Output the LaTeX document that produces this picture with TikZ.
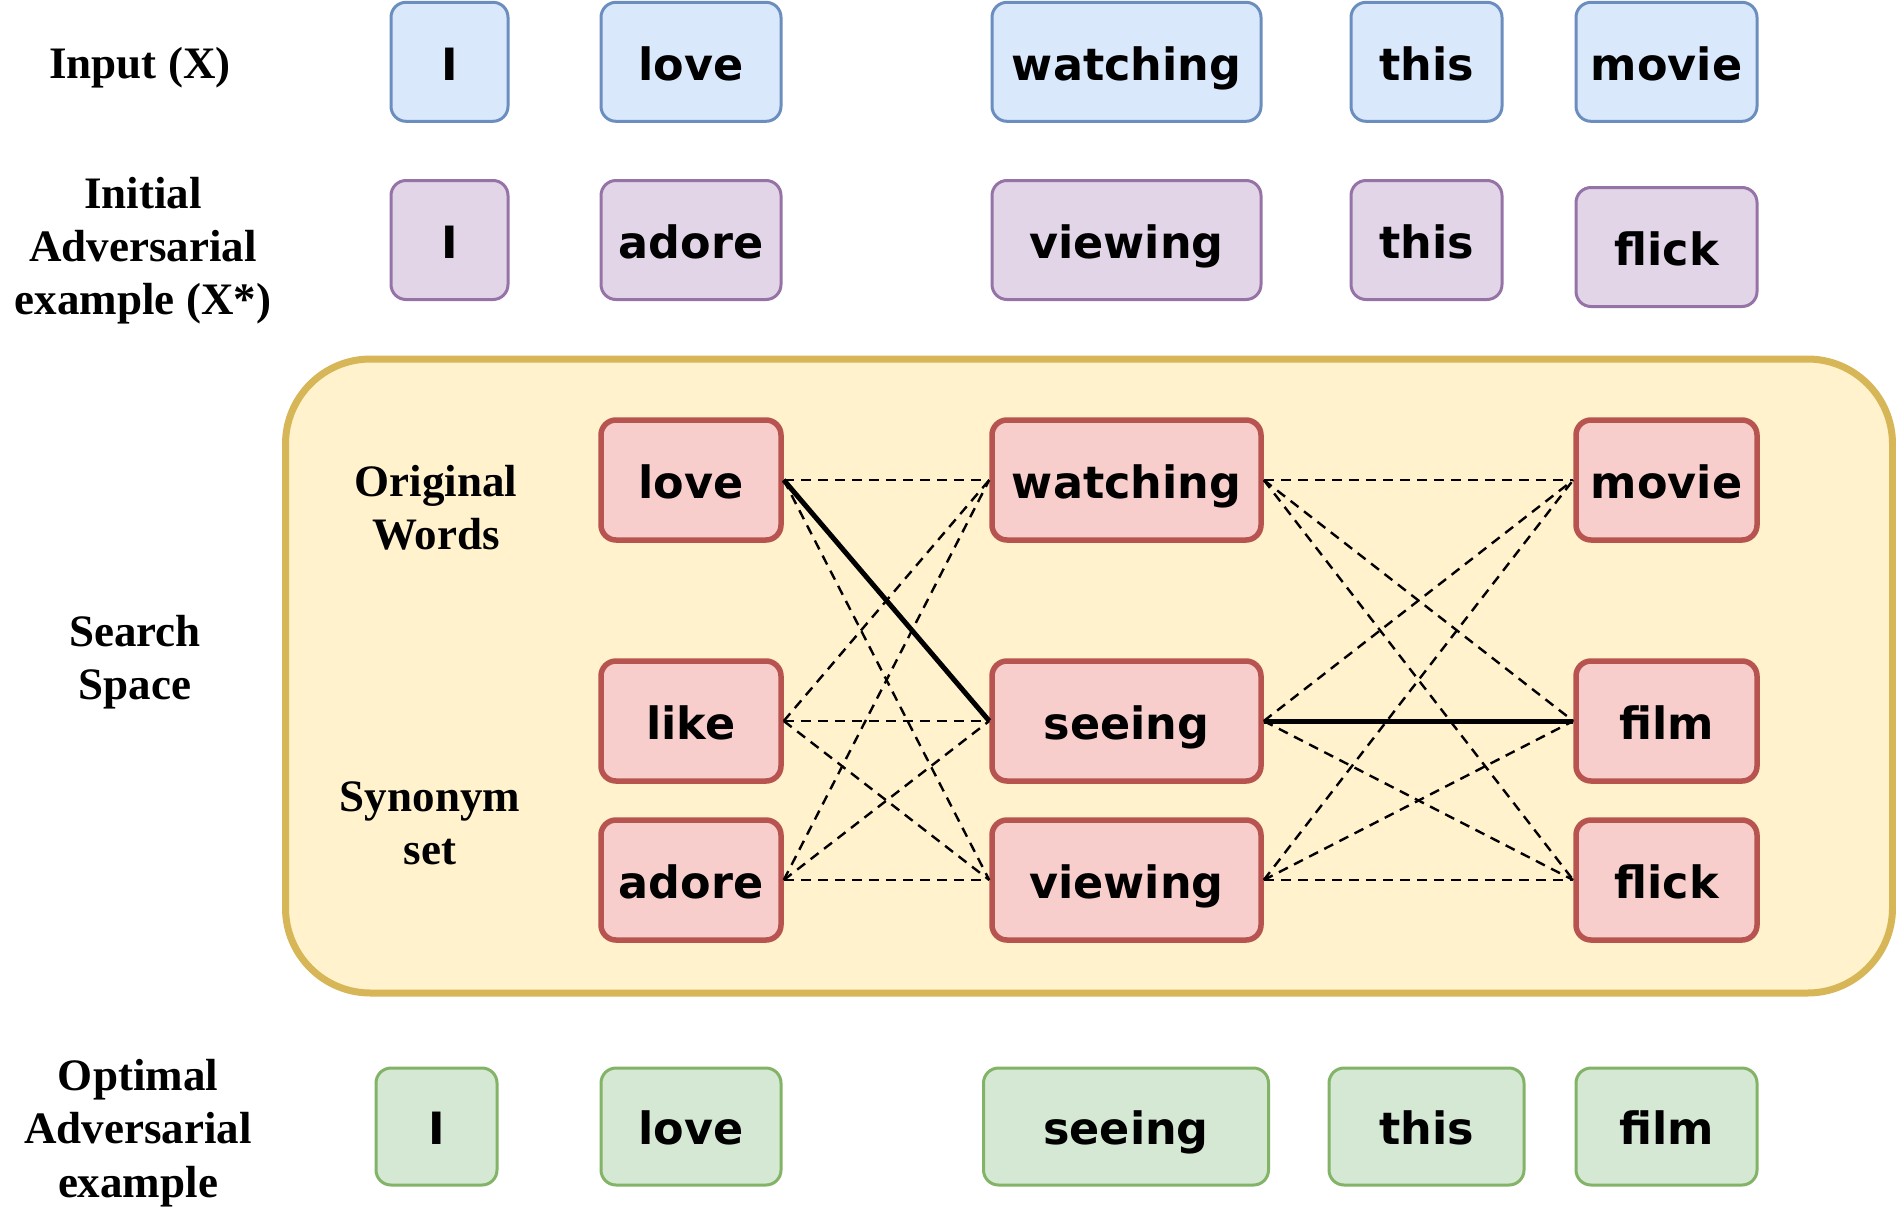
\documentclass[tikz,border=0pt]{standalone}
\usepackage{fontspec}
\setmainfont{Liberation Serif}
\newfontfamily\wfont{DejaVu Sans}
\definecolor{bfill}{HTML}{DAE8FC}\definecolor{bdraw}{HTML}{6C8EBF}
\definecolor{pfill}{HTML}{E1D5E7}\definecolor{pdraw}{HTML}{9673A6}
\definecolor{gfill}{HTML}{D5E8D4}\definecolor{gdraw}{HTML}{82B366}
\definecolor{rfill}{HTML}{F8CECC}\definecolor{rdraw}{HTML}{B85450}
\definecolor{yfill}{HTML}{FFF2CC}\definecolor{ydraw}{HTML}{D6B656}
\begin{document}
\begin{tikzpicture}[x=1pt,y=-1pt,
  wbox/.style={rectangle, rounded corners=15pt, inner sep=0pt, minimum height=119pt,
    font={\wfont\bfseries\fontsize{44.5}{53}\selectfont}, text height=36.4pt, text depth=0pt},
  inbox/.style={wbox, fill=bfill, draw=bdraw, line width=3pt},
  advbox/.style={wbox, fill=pfill, draw=pdraw, line width=3pt},
  optbox/.style={wbox, fill=gfill, draw=gdraw, line width=3pt, minimum height=117pt},
  redbox/.style={wbox, fill=rfill, draw=rdraw, line width=5.5pt, minimum height=120pt},
  lbl/.style={align=center, inner sep=0pt, font={\bfseries\fontsize{45}{53.2}\selectfont}},
  dedge/.style={line width=2.4pt, dash pattern=on 10pt off 7pt},
  sedge/.style={line width=5pt}]
\useasboundingbox (0,0) rectangle (1896,1227);

% search space container
\node[rectangle, rounded corners=85pt, fill=yfill, draw=ydraw, line width=7pt,
  minimum width=1607pt, minimum height=634pt, inner sep=0pt] (space) at (1089,676) {};

% labels
\node[lbl] (linput) at (140,68) {Input (X)};
\node[lbl] (linit) at (143,250.5) {Initial\\Adversarial\\example (X*)};
\node[lbl] (lorig) at (436,508) {Original\\Words};
\node[lbl] (lsearch) at (135,662) {Search\\Space};
\node[lbl] (lsyn) at (430,823.5) {Synonym\\set};
\node[lbl] (lopt) at (138,1133) {Optimal\\Adversarial\\example};

% input row
\node[inbox, minimum width=117pt] (in1) at (449.5,61.8) {I};
\node[inbox, minimum width=180pt] (in2) at (691,61.8) {love};
\node[inbox, minimum width=269pt] (in3) at (1126.5,61.8) {watching};
\node[inbox, minimum width=151pt] (in4) at (1426.5,61.8) {this};
\node[inbox, minimum width=181pt] (in5) at (1666.5,61.8) {movie};

% initial adversarial row
\node[advbox, minimum width=117pt] (ad1) at (449.5,240) {I};
\node[advbox, minimum width=180pt] (ad2) at (691,240) {adore};
\node[advbox, minimum width=269pt] (ad3) at (1126.5,240) {viewing};
\node[advbox, minimum width=151pt] (ad4) at (1426.5,240) {this};
\node[advbox, minimum width=181pt] (ad5) at (1666.5,247) {flick};

% search space words
\node[redbox, minimum width=180pt] (L1) at (691,480) {love};
\node[redbox, minimum width=180pt] (L2) at (691,721) {like};
\node[redbox, minimum width=180pt] (L3) at (691,880) {adore};
\node[redbox, minimum width=269pt] (M1) at (1126.5,480) {watching};
\node[redbox, minimum width=269pt] (M2) at (1126.5,721) {seeing};
\node[redbox, minimum width=269pt] (M3) at (1126.5,880) {viewing};
\node[redbox, minimum width=181pt] (R1) at (1666.5,480) {movie};
\node[redbox, minimum width=181pt] (R2) at (1666.5,721) {film};
\node[redbox, minimum width=181pt] (R3) at (1666.5,880) {flick};

% connectors
\draw[dedge] (L1.east) -- (M1.west);
\draw[dedge] (L1.east) -- (M3.west);
\draw[dedge] (L2.east) -- (M1.west);
\draw[dedge] (L2.east) -- (M2.west);
\draw[dedge] (L2.east) -- (M3.west);
\draw[dedge] (L3.east) -- (M1.west);
\draw[dedge] (L3.east) -- (M2.west);
\draw[dedge] (L3.east) -- (M3.west);
\draw[sedge] (L1.east) -- (M2.west);
\draw[dedge] (M1.east) -- (R1.west);
\draw[dedge] (M1.east) -- (R2.west);
\draw[dedge] (M1.east) -- (R3.west);
\draw[dedge] (M2.east) -- (R1.west);
\draw[dedge] (M2.east) -- (R3.west);
\draw[dedge] (M3.east) -- (R1.west);
\draw[dedge] (M3.east) -- (R2.west);
\draw[dedge] (M3.east) -- (R3.west);
\draw[sedge] (M2.east) -- (R2.west);

% optimal row
\node[optbox, minimum width=121pt] (op1) at (436.5,1126.5) {I};
\node[optbox, minimum width=180pt] (op2) at (691,1126.5) {love};
\node[optbox, minimum width=285pt] (op3) at (1126,1126.5) {seeing};
\node[optbox, minimum width=195pt] (op4) at (1426.5,1126.5) {this};
\node[optbox, minimum width=181pt] (op5) at (1666.5,1126.5) {film};
\end{tikzpicture}
\end{document}
